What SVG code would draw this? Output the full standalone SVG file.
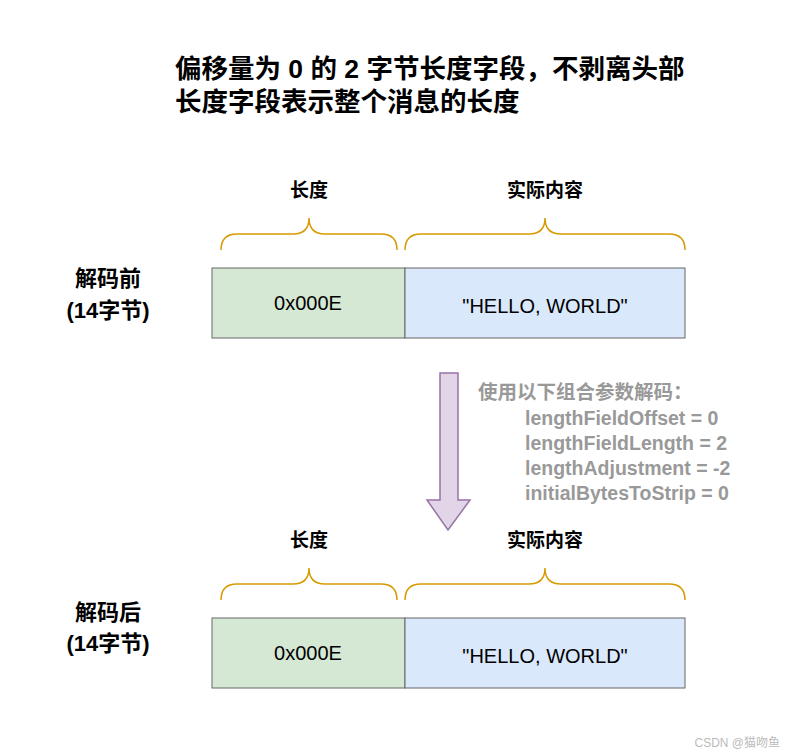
<svg xmlns="http://www.w3.org/2000/svg" width="790" height="755" viewBox="0 0 790 755">
<style>
.t{font-family:"Liberation Sans","Noto Sans CJK SC",sans-serif;font-weight:bold;fill:#000}
.b{fill:none;stroke:#d79b00;stroke-width:1.5}
.g{fill:#d5e8d4;stroke:#666}
.bl{fill:#dae8fc;stroke:#666}
.v{font-family:"Liberation Sans","Noto Sans CJK SC",sans-serif;font-size:20px;fill:#000;text-anchor:middle}
.p{font-family:"Liberation Sans","Noto Sans CJK SC",sans-serif;font-weight:bold;font-size:19.5px;fill:#999}
</style>
<rect width="790" height="755" fill="#fff"/>
<g id="title"><text class="t" x="175" y="78" font-size="26.5">偏移量为 0 的 2 字节长度字段，不剥离头部</text><text class="t" x="175" y="111" font-size="26.5">长度字段表示整个消息的长度</text></g>
<g id="before">
<text class="t" x="309" y="197" font-size="19" text-anchor="middle">长度</text>
<text class="t" x="545" y="197" font-size="19" text-anchor="middle">实际内容</text>
<path class="b" d="M221 250 Q221 234 237 234 L293 234 Q309 234 309 218 Q309 234 325 234 L381 234 Q397 234 397 250"/>
<path class="b" d="M405 250 Q405 234 421 234 L529 234 Q545 234 545 218 Q545 234 561 234 L669 234 Q685 234 685 250"/>
<text class="t" x="108" y="286" font-size="22" text-anchor="middle">解码前</text>
<text class="t" x="108" y="318" font-size="22" text-anchor="middle">(14字节)</text>
<rect class="g" x="212" y="268" width="193" height="70"/><text class="v" x="308" y="310">0x000E</text>
<rect class="bl" x="405" y="268" width="280" height="70"/><text class="v" x="545" y="313">"HELLO, WORLD"</text>
</g>
<g id="connectors"><path d="M440 373 L458 373 L458 500 L470 500 L448 530 L427 500 L440 500 Z" fill="#e1d5e7" stroke="#9673a6" stroke-width="1.5"/></g>
<g id="params">
<text class="p" x="478" y="399">使用以下组合参数解码：</text>
<text class="p" x="525" y="425">lengthFieldOffset = 0</text>
<text class="p" x="525" y="450">lengthFieldLength = 2</text>
<text class="p" x="525" y="475">lengthAdjustment = -2</text>
<text class="p" x="525" y="500">initialBytesToStrip = 0</text>
</g>
<g id="after">
<text class="t" x="309" y="547" font-size="19" text-anchor="middle">长度</text>
<text class="t" x="545" y="547" font-size="19" text-anchor="middle">实际内容</text>
<path class="b" d="M221 600 Q221 584 237 584 L293 584 Q309 584 309 568 Q309 584 325 584 L381 584 Q397 584 397 600"/>
<path class="b" d="M405 600 Q405 584 421 584 L529 584 Q545 584 545 568 Q545 584 561 584 L669 584 Q685 584 685 600"/>
<text class="t" x="108" y="620" font-size="22" text-anchor="middle">解码后</text>
<text class="t" x="108" y="651" font-size="22" text-anchor="middle">(14字节)</text>
<rect class="g" x="212" y="618" width="193" height="70"/><text class="v" x="308" y="660">0x000E</text>
<rect class="bl" x="405" y="618" width="280" height="70"/><text class="v" x="545" y="663">"HELLO, WORLD"</text>
</g>
<text x="780" y="747" font-family="Liberation Sans,Noto Sans CJK SC,sans-serif" font-size="12" fill="#bbb" text-anchor="end">CSDN @猫吻鱼</text>
</svg>
